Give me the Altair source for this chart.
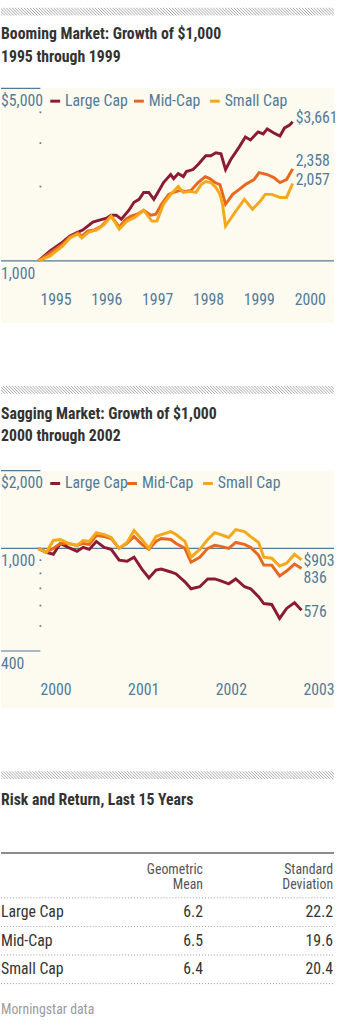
import altair as alt
import pandas as pd

W = 338
FONT = "Liberation Sans Narrow, Arial Narrow, Roboto Condensed, DejaVu Sans Condensed, sans-serif"
BLUE = "#527b98"
CREAM = "#fdfaf0"
DARK = "#333333"

SERIES = ["Large Cap", "Mid-Cap", "Small Cap"]
COLORS = ["#8b1b35", "#e8681f", "#f4a81c"]
BASE = 1000

# ---------------- Booming market 1995-1999 ----------------
BOOM_LARGE_T = [1995.00, 1995.23, 1995.48, 1995.62, 1995.78, 1995.87, 1996.07, 1996.20, 1996.34, 1996.43,
                1996.53, 1996.63, 1996.78, 1996.88, 1996.98, 1997.07, 1997.17, 1997.27, 1997.36, 1997.46,
                1997.60, 1997.66, 1997.75, 1997.85, 1997.91, 1998.04, 1998.14, 1998.29, 1998.39, 1998.49,
                1998.59, 1998.68, 1998.78, 1998.95, 1999.07, 1999.17, 1999.32, 1999.42, 1999.50, 1999.63,
                1999.75, 1999.84, 1999.94, 2000.00]
BOOM_LARGE_V = [1000, 1097, 1192, 1260, 1308, 1332, 1434, 1461, 1489, 1531,
                1531, 1475, 1603, 1726, 1775, 1893, 1893, 1775, 1911, 2076,
                2237, 2154, 2258, 2194, 2299, 2343, 2456, 2665, 2665, 2740,
                2715, 2343, 2569, 2897, 3178, 3090, 3328, 3266, 3425, 3297,
                3205, 3456, 3551, 3661]

BOOM_MID_T = [1995.00, 1995.23, 1995.48, 1995.62, 1995.78, 1995.85, 1995.97, 1996.10, 1996.24, 1996.43,
              1996.59, 1996.72, 1996.82, 1996.94, 1997.07, 1997.21, 1997.31, 1997.42, 1997.56, 1997.66,
              1997.79, 1997.89, 1998.00, 1998.14, 1998.28, 1998.37, 1998.47, 1998.57, 1998.68, 1998.82,
              1998.95, 1999.07, 1999.24, 1999.34, 1999.50, 1999.63, 1999.75, 1999.88, 2000.00]
BOOM_MID_V = [1000, 1077, 1170, 1249, 1296, 1260, 1320, 1332, 1382, 1517,
              1370, 1475, 1517, 1545, 1603, 1531, 1545, 1695, 1859, 1893,
              1929, 1911, 1929, 2076, 2194, 2154, 2076, 2038, 1695, 1859,
              1948, 2038, 2134, 2278, 2237, 2174, 2076, 2134, 2358]

BOOM_SMALL_T = [1995.00, 1995.23, 1995.48, 1995.62, 1995.78, 1995.85, 1995.99, 1996.14, 1996.28, 1996.43,
                1996.59, 1996.74, 1996.90, 1997.07, 1997.23, 1997.33, 1997.46, 1997.60, 1997.75, 1997.85,
                1997.98, 1998.10, 1998.20, 1998.29, 1998.39, 1998.49, 1998.57, 1998.62, 1998.68, 1998.88,
                1999.05, 1999.21, 1999.36, 1999.46, 1999.59, 1999.75, 1999.88, 2000.00]
BOOM_SMALL_V = [1000, 1047, 1149, 1237, 1284, 1237, 1308, 1332, 1395, 1517,
                1345, 1448, 1503, 1603, 1448, 1448, 1695, 1859, 2000, 1893,
                1911, 1893, 2038, 2096, 2076, 1983, 1859, 1695, 1382, 1588,
                1775, 1618, 1742, 1859, 1859, 1807, 1807, 2057]

BOOM_YEARS = [1995, 1996, 1997, 1998, 1999, 2000]
BOOM_END_LABELS = ["$3,661", "2,358", "2,057"]
BOOM_Y_LABEL_VALUES = [5000, 1000]
BOOM_Y_LABELS = ["$5,000", "1,000"]
BOOM_SHORT_RULES = [5000]
BOOM_TICKS = [4000, 3000, 2000]

# ---------------- Sagging market 2000-2002 ----------------
SAG_T = [2000.00, 2000.09, 2000.17, 2000.25, 2000.34, 2000.44, 2000.51, 2000.58, 2000.66, 2000.75,
         2000.83, 2000.92, 2001.01, 2001.09, 2001.18, 2001.26, 2001.34, 2001.40, 2001.51, 2001.57,
         2001.67, 2001.74, 2001.84, 2001.93, 2002.01, 2002.08, 2002.17, 2002.25, 2002.35, 2002.42,
         2002.51, 2002.57, 2002.66, 2002.75, 2002.83, 2002.92, 2003.00]
SAG_LARGE_V = [1000, 965, 949, 1045, 1009, 974, 1009, 991, 1064, 1009,
               991, 900, 892, 924, 831, 768, 824, 831, 810, 796,
               742, 697, 710, 761, 761, 748, 729, 761, 710, 697,
               650, 611, 606, 535, 585, 616, 576]
SAG_MID_V = [1000, 965, 1000, 1045, 1045, 1027, 1045, 1036, 1121, 1111,
             1092, 1000, 1045, 1111, 1036, 991, 1064, 1092, 1082, 1045,
             1000, 884, 924, 1000, 1027, 1018, 1000, 1054, 1036, 1009,
             940, 861, 861, 782, 817, 869, 836]
SAG_SMALL_V = [1000, 965, 1073, 1082, 1045, 1027, 1073, 1064, 1151, 1131,
               1102, 1000, 1054, 1172, 1082, 1000, 1111, 1131, 1161, 1131,
               1064, 924, 991, 1082, 1151, 1131, 1102, 1182, 1161, 1111,
               1054, 924, 916, 854, 876, 949, 903]

SAG_YEARS = [2000, 2001, 2002, 2003]
SAG_END_LABELS = ["576", "836", "$903"]
SAG_Y_LABEL_VALUES = [2000, 1000, 400]
SAG_Y_LABELS = ["$2,000", "1,000", "400"]
SAG_SHORT_RULES = [2000, 400]
SAG_TICKS = [900, 800, 700, 600, 500]

# ---------------- Risk and return table ----------------
TABLE_ROWS = ["Large Cap", "Mid-Cap", "Small Cap"]
GEO_MEAN = [6.2, 6.5, 6.4]
STD_DEV = [22.2, 19.6, 20.4]

TITLE_1 = ["Booming Market: Growth of $1,000", "1995 through 1999"]
TITLE_2 = ["Sagging Market: Growth of $1,000", "2000 through 2002"]
TITLE_3 = "Risk and Return, Last 15 Years"
SOURCE = "Morningstar data"

HATCH_X = list(range(-10, W + 4, 3))


def text_layer(text, x, y, size=16, color=BLUE, bold=False, align="left"):
    df = pd.DataFrame({"label": [text]})
    return alt.Chart(df).mark_text(
        align=align, baseline="middle", font=FONT, fontSize=size,
        fontWeight="bold" if bold else "normal", color=color,
    ).encode(x=alt.value(x), y=alt.value(y), text="label:N")


def hatch_layer(y0):
    df = pd.DataFrame({"hx": HATCH_X})
    return alt.Chart(df).mark_rule(color="#a8a8a8", strokeWidth=1, clip=True).transform_calculate(
        hx2="datum.hx + 8"
    ).encode(x=alt.X("hx:Q", scale=None), x2="hx2:Q", y=alt.value(y0), y2=alt.value(y0 + 8))


def header_panel(height, hatch_y, titles, title_y, gap=23):
    layers = [hatch_layer(hatch_y)]
    for i, t in enumerate(titles):
        layers.append(text_layer(t, 0, title_y + i * gap, size=16, color=DARK, bold=True))
    return alt.layer(*layers).properties(width=W, height=height)


def growth_panel(height, t_lists, v_lists, x_dom, x_range, y_dom, y_range,
                 y_label_vals, y_labels, short_vals, tick_vals, years, year_y,
                 end_labels, end_dx, end_dy, legend_x, legend_y):
    xs = alt.Scale(domain=x_dom, range=x_range, nice=False, zero=False)
    ys = alt.Scale(type="log", domain=y_dom, range=y_range, nice=False)

    def X(f):
        return alt.X(f, scale=xs, axis=None)

    def Y(f):
        return alt.Y(f, scale=ys, axis=None)

    layers = []
    layers.append(alt.Chart(pd.DataFrame({"v": [BASE]})).mark_rule(color=BLUE, strokeWidth=1.2).encode(
        y=Y("v:Q"), x=alt.value(0), x2=alt.value(W)))
    layers.append(alt.Chart(pd.DataFrame({"v": short_vals})).mark_rule(color=BLUE, strokeWidth=1.2).encode(
        y=Y("v:Q"), x=alt.value(0), x2=alt.value(40)))
    layers.append(alt.Chart(pd.DataFrame({"v": tick_vals})).mark_square(size=3, color=BLUE, opacity=1).encode(
        y=Y("v:Q"), x=alt.value(40)))
    layers.append(alt.Chart(pd.DataFrame({"v": y_label_vals, "label": y_labels})).mark_text(
        align="left", baseline="middle", dy=13, font=FONT, fontSize=16, color=BLUE).encode(
        y=Y("v:Q"), x=alt.value(0), text="label:N"))
    layers.append(alt.Chart(pd.DataFrame({"t": years, "label": [str(y) for y in years]})).mark_text(
        align="left", baseline="middle", dx=2, font=FONT, fontSize=16, color=BLUE).encode(
        x=X("t:Q"), y=alt.value(year_y), text="label:N"))
    for i, name in enumerate(SERIES):
        df = pd.DataFrame({"t": t_lists[i], "v": v_lists[i]})
        layers.append(alt.Chart(df).mark_line(strokeWidth=3, color=COLORS[i]).encode(
            x=X("t:Q"), y=Y("v:Q"), order="t:Q"))
    for i, name in enumerate(SERIES):
        df = pd.DataFrame({"t": [t_lists[i][-1]], "v": [v_lists[i][-1]], "label": [end_labels[i]]})
        layers.append(alt.Chart(df).mark_text(
            align="left", baseline="middle", dx=end_dx, dy=end_dy[i], font=FONT, fontSize=16, color=BLUE).encode(
            x=X("t:Q"), y=Y("v:Q"), text="label:N"))
    for i, name in enumerate(SERIES):
        df = pd.DataFrame({"s": [name]})
        layers.append(alt.Chart(df).mark_rule(strokeWidth=3, color=COLORS[i]).encode(
            x=alt.value(legend_x[i]), x2=alt.value(legend_x[i] + 10), y=alt.value(legend_y)))
        layers.append(alt.Chart(df).mark_text(
            align="left", baseline="middle", font=FONT, fontSize=16, color=BLUE).encode(
            x=alt.value(legend_x[i] + 15), y=alt.value(legend_y), text="s:N"))
    return alt.layer(*layers).properties(width=W, height=height, view=alt.ViewBackground(fill=CREAM))


def table_panel(height):
    layers = [hatch_layer(64), text_layer(TITLE_3, 0, 93, size=16, color=DARK, bold=True)]
    layers.append(alt.Chart(pd.DataFrame({"s": ["top"]})).mark_rule(color="#8c8c8c", strokeWidth=2).encode(
        x=alt.value(0), x2=alt.value(W), y=alt.value(147)))
    for j, (a, b) in enumerate([("Geometric", "Standard"), ("Mean", "Deviation")]):
        layers.append(text_layer(a, 205, 164 + j * 16, size=14, color="#555555", align="right"))
        layers.append(text_layer(b, 337, 164 + j * 16, size=14, color="#555555", align="right"))
    ys = alt.Scale(domain=[0, len(TABLE_ROWS) - 1], range=[207, 265], nice=False, zero=False)
    seps = pd.DataFrame({"row": [i - 0.5 for i in range(len(TABLE_ROWS) + 1)]})
    layers.append(alt.Chart(seps).mark_rule(color="#9a9a9a", strokeWidth=1, strokeDash=[1, 2]).encode(
        y=alt.Y("row:Q", scale=ys, axis=None), x=alt.value(0), x2=alt.value(W)))
    rows = pd.DataFrame({"row": list(range(len(TABLE_ROWS))), "name": TABLE_ROWS,
                         "geo": GEO_MEAN, "std": STD_DEV})
    base = alt.Chart(rows)
    txt = dict(baseline="middle", font=FONT, fontSize=16, color=DARK)
    layers.append(base.mark_text(align="left", **txt).encode(
        y=alt.Y("row:Q", scale=ys, axis=None), x=alt.value(0), text="name:N"))
    layers.append(base.mark_text(align="right", **txt).encode(
        y=alt.Y("row:Q", scale=ys, axis=None), x=alt.value(205), text=alt.Text("geo:Q", format=".1f")))
    layers.append(base.mark_text(align="right", **txt).encode(
        y=alt.Y("row:Q", scale=ys, axis=None), x=alt.value(337), text=alt.Text("std:Q", format=".1f")))
    layers.append(text_layer(SOURCE, 0, 306, size=14, color="#9b9b9b"))
    return alt.layer(*layers).properties(width=W, height=height)


panel_a = header_panel(82, 0, TITLE_1, 27)
panel_b = growth_panel(
    238,
    [BOOM_LARGE_T, BOOM_MID_T, BOOM_SMALL_T],
    [BOOM_LARGE_V, BOOM_MID_V, BOOM_SMALL_V],
    [1995, 2000], [38, 296], [1000, 5000], [175, 0],
    BOOM_Y_LABEL_VALUES, BOOM_Y_LABELS, BOOM_SHORT_RULES, BOOM_TICKS,
    BOOM_YEARS, 215, BOOM_END_LABELS, 3, [-4, -8, -4], [50, 135, 212], 13)
panel_c = header_panel(150, 64, TITLE_2, 93, gap=22)
panel_d = growth_panel(
    241,
    [SAG_T, SAG_T, SAG_T],
    [SAG_LARGE_V, SAG_MID_V, SAG_SMALL_V],
    [2000, 2003], [38, 305], [400, 2000], [183, 0],
    SAG_Y_LABEL_VALUES, SAG_Y_LABELS, SAG_SHORT_RULES, SAG_TICKS,
    SAG_YEARS, 223, SAG_END_LABELS, 2, [2, 10, 1], [50, 128, 205], 13)
panel_e = table_panel(324)

chart = alt.vconcat(panel_a, panel_b, panel_c, panel_d, panel_e, spacing=0, bounds="flush").properties(
    padding=0, background="white"
).configure_view(stroke=None)

chart.save("out.html", embed_options={"renderer": "svg", "actions": False})
